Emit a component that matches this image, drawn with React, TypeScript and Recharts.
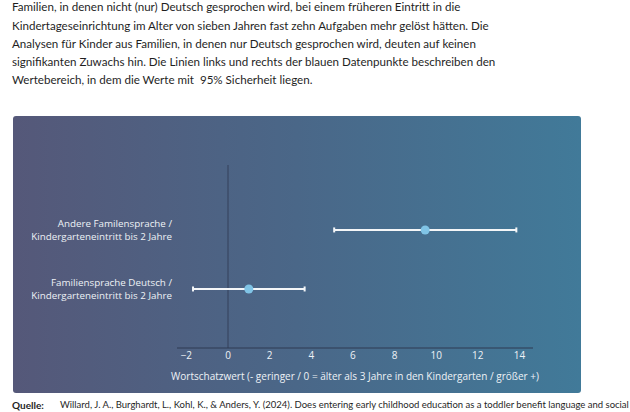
import React from 'react';
import { ScatterChart, Scatter, XAxis, YAxis, ErrorBar, ReferenceLine } from 'recharts';

const paragraphLines = [
  'Familien, in denen nicht (nur) Deutsch gesprochen wird, bei einem früheren Eintritt in die',
  'Kindertageseinrichtung im Alter von sieben Jahren fast zehn Aufgaben mehr gelöst hätten. Die',
  'Analysen für Kinder aus Familien, in denen nur Deutsch gesprochen wird, deuten auf keinen',
  'signifikanten Zuwachs hin. Die Linien links und rechts der blauen Datenpunkte beschreiben den',
  'Wertebereich, in dem die Werte mit  95% Sicherheit liegen.',
];

const categories = [
  'Andere Familensprache /\nKindergarteneintritt bis 2 Jahre',
  'Familiensprache Deutsch /\nKindergarteneintritt bis 2 Jahre',
];
const categoryRows = [2, 1];
const estimates = [9.47, 1.0];
const ciLower = [5.1, -1.68];
const ciUpper = [13.85, 3.68];
const xTicks = [-2, 0, 2, 4, 6, 8, 10, 12, 14];
const xAxisTitle = 'Wortschatzwert (- geringer / 0 = älter als 3 Jahre in den Kindergarten / größer +)';
const sourceLabel = 'Quelle:';
const sourceText =
  'Willard, J. A., Burghardt, L., Kohl, K., & Anders, Y. (2024). Does entering early childhood education as a toddler benefit language and social';

const data = categoryRows.map((row, i) => ({
  x: estimates[i],
  y: row,
  err: [estimates[i] - ciLower[i], ciUpper[i] - estimates[i]],
}));

const FONT = '"Open Sans", Verdana, sans-serif';
const TEXT_FONT = 'Lato, "Open Sans", sans-serif';

const YTick = (props: any) => {
  const { x, y, payload } = props;
  const idx = categoryRows.indexOf(payload.value);
  const lines = idx >= 0 ? categories[idx].split('\n') : [];
  return (
    <text x={x} y={y} textAnchor="end" fill="#eef2f6" fontSize={9.8} fontFamily={FONT}>
      {lines.map((l, i) => (
        <tspan key={i} x={x} dy={i === 0 ? -2.5 : 12.3}>
          {l}
        </tspan>
      ))}
    </text>
  );
};

const fmt = (v: number) => (v < 0 ? '\u2212' + Math.abs(v) : String(v));

export default function App() {
  const lineTops = [7.2, 25.5, 43.8, 62.1, 80.4];
  return (
    <div
      style={{
        position: 'absolute',
        left: 0,
        top: 0,
        width: 630,
        height: 412,
        overflow: 'hidden',
        background: '#ffffff',
      }}
    >
      {paragraphLines.map((l, i) => (
        <div
          key={i}
          style={{
            position: 'absolute',
            left: 12,
            top: lineTops[i] - 9,
            height: 18,
            lineHeight: '18px',
            fontFamily: TEXT_FONT,
            fontSize: 11.6,
            color: '#1f1f1f',
            whiteSpace: 'pre',
          }}
        >
          {l}
        </div>
      ))}

      <div
        style={{
          position: 'absolute',
          left: 13,
          top: 116,
          width: 568,
          height: 277,
          borderRadius: 3,
          background: 'linear-gradient(90deg, #555879 0%, #4a6788 50%, #417a99 100%)',
        }}
      >
        <ScatterChart width={568} height={277} margin={{ top: 49, right: 48, bottom: 0, left: 0 }}>
          <XAxis
            type="number"
            dataKey="x"
            domain={[-2.45, 14.65]}
            ticks={xTicks}
            interval={0}
            allowDataOverflow
            tickFormatter={fmt}
            axisLine={{ stroke: '#2f3b52', strokeWidth: 1 }}
            tickLine={false}
            tickSize={0}
            tickMargin={3.5}
            height={45}
            tick={{ fill: '#eef2f6', fontSize: 10, fontFamily: FONT }}
            label={{
              value: xAxisTitle,
              position: 'insideBottom',
              offset: 13,
              fill: '#eef2f6',
              fontSize: 10,
              fontFamily: FONT,
            }}
          />
          <YAxis
            type="number"
            dataKey="y"
            domain={[0, 3.1]}
            ticks={categoryRows}
            interval={0}
            allowDataOverflow
            axisLine={false}
            tickLine={false}
            tickSize={0}
            tickMargin={5}
            width={164}
            tick={<YTick />}
          />
          <ReferenceLine x={0} stroke="#34405a" strokeWidth={1} />
          <Scatter data={data} fill="#80c4e6" isAnimationActive={false}>
            <ErrorBar dataKey="err" direction="x" stroke="#f4f6f8" strokeWidth={2} width={2.5} />
          </Scatter>
        </ScatterChart>
      </div>

      <div
        style={{
          position: 'absolute',
          left: 12,
          top: 405 - 9,
          height: 18,
          lineHeight: '18px',
          fontFamily: TEXT_FONT,
          fontSize: 10,
          fontWeight: 700,
          color: '#1f1f1f',
          whiteSpace: 'pre',
        }}
      >
        {sourceLabel}
      </div>
      <div
        style={{
          position: 'absolute',
          left: 60,
          top: 405 - 9,
          height: 18,
          lineHeight: '18px',
          fontFamily: TEXT_FONT,
          fontSize: 9.5,
          color: '#1f1f1f',
          whiteSpace: 'pre',
        }}
      >
        {sourceText}
      </div>
    </div>
  );
}
